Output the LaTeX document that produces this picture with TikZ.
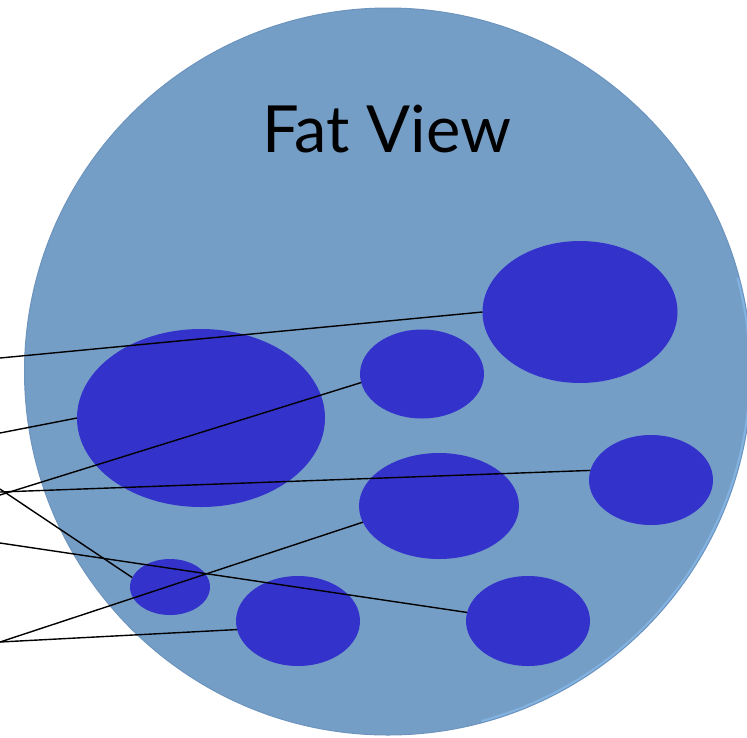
\documentclass[tikz,border=0pt]{standalone}
\usepackage{fontspec}
\setmainfont{Lato}
\usetikzlibrary{shapes.geometric}
\definecolor{disc}{RGB}{117,158,198}
\definecolor{discedge}{RGB}{108,148,190}
\definecolor{rim}{RGB}{130,178,224}
\definecolor{blob}{RGB}{51,51,204}
\tikzset{
  blobnode/.style={ellipse, fill=blob, draw=none, inner sep=0pt, outer sep=0pt},
  link/.style={draw=black, line width=1.4pt}
}
\begin{document}
\begin{tikzpicture}[x=1pt,y=-1pt]
\useasboundingbox (0,0) rectangle (747,737);
\begin{scope}
\clip (0,0) rectangle (747,737);
\fill[disc] (388,371.5) circle[radius=363.5];
\draw[rim, line width=2.5pt] (388,371.5) ++(75:362) arc[start angle=75, end angle=-15, radius=362];
\draw[discedge, line width=1pt] (388,371.5) circle[radius=363.5];
\end{scope}
\node[anchor=base, font=\fontsize{65}{78}\selectfont] (title) at (387,152) {Fat View};
\node[blobnode, minimum width=195pt, minimum height=142pt] (e1) at (580,312) {};
\node[blobnode, minimum width=248pt, minimum height=178pt] (e2) at (201,418) {};
\node[blobnode, minimum width=124pt, minimum height=89pt] (e3) at (422,374) {};
\node[blobnode, minimum width=160pt, minimum height=106pt] (e4) at (439,506) {};
\node[blobnode, minimum width=124pt, minimum height=90pt] (e5) at (651,480) {};
\node[blobnode, minimum width=80pt, minimum height=56pt] (e6) at (170,587) {};
\node[blobnode, minimum width=124pt, minimum height=90pt] (e7) at (298,621) {};
\node[blobnode, minimum width=124pt, minimum height=90pt] (e8) at (528,621) {};
\coordinate (p1) at (0,358);
\coordinate (p2) at (0,433);
\coordinate (p3) at (0,495);
\coordinate (p4) at (0,492);
\coordinate (p5) at (0,489);
\coordinate (p6) at (0,543);
\coordinate (p7) at (0,642);
\draw[link] (p1) -- (e1.west);
\draw[link] (p2) -- (e2.west);
\draw[link] (p3) -- (e3.188);
\draw[link] (p4) -- (e5.171);
\draw[link] (p5) -- (e6.166);
\draw[link] (p6) -- (e8.172);
\draw[link] (p7) -- (e4.192);
\draw[link] (p7) -- (e7.188);
\end{tikzpicture}
\end{document}
